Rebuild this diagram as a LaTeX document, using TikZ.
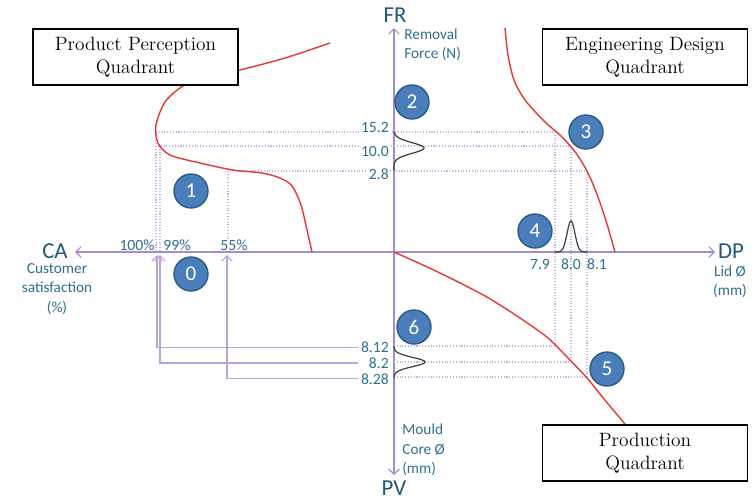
\documentclass[tikz,border=0pt]{standalone}
\usepackage{fontspec}
\setsansfont{Carlito}
\usepackage{tikz}
\usetikzlibrary{positioning,arrows.meta}
\definecolor{AxisLav}{HTML}{A48DCF}
\definecolor{GuideLav}{HTML}{C2B2E2}
\definecolor{LinkLav}{HTML}{B6A4DA}
\definecolor{LabelTeal}{HTML}{2F6F8F}
\definecolor{AxisTeal}{HTML}{1F5878}
\definecolor{BallBlue}{HTML}{4A7EBB}
\definecolor{BallEdge}{HTML}{2C5A8A}
\definecolor{CurveRed}{HTML}{E53935}

\begin{document}
\begin{tikzpicture}[
  x=0.02cm, y=-0.02cm,
  quadbox/.style={
    draw,
    line width=0.7pt,
    fill=white,
    minimum width=4.1cm,
    minimum height=1.12cm,
    align=center,
    font=\fontsize{11}{13}\selectfont
  },
  ball/.style={
    circle,
    fill=BallBlue,
    draw=BallEdge,
    line width=0.8pt,
    minimum size=0.68cm,
    inner sep=0pt,
    text=white,
    font=\sffamily\fontsize{12}{12}\selectfont
  },
  axislbl/.style={text=AxisTeal,inner sep=0.5pt,font=\sffamily\fontsize{13}{13}\selectfont},
  unitlbl/.style={text=LabelTeal,inner sep=0pt,font=\sffamily\fontsize{8.7}{11}\selectfont},
  ticklbl/.style={text=LabelTeal,inner sep=0.5pt,font=\sffamily\fontsize{8.9}{10}\selectfont},
  axis/.style={AxisLav,line width=0.7pt,-{Straight Barb[length=3pt,width=6pt]}},
  guide/.style={GuideLav,densely dotted,line width=0.6pt},
  link/.style={LinkLav,line width=0.7pt,-{Straight Barb[length=3pt,width=6pt]}},
  bell/.style={black!75,line width=0.7pt},
  resp/.style={CurveRed,line width=0.8pt}
]
\useasboundingbox (0,0) rectangle (755,501);

% axes
\coordinate (o) at (394,252);
\coordinate (frtip) at (394,28);
\coordinate (pvtip) at (394,475);
\coordinate (catip) at (75,252);
\coordinate (dptip) at (715,252);
\draw[axis] (o) -- (frtip);
\draw[axis] (o) -- (pvtip);
\draw[axis] (o) -- (catip);
\draw[axis] (o) -- (dptip);

\node[axislbl] (fr) at (395,15) {FR};
\node[axislbl] (pv) at (394,488) {PV};
\node[axislbl] (ca) at (55,251) {CA};
\node[axislbl] (dp) at (731,251) {DP};

\node[unitlbl,anchor=west,align=left] (frunit) at (404,45) {Removal\\Force (N)};
\node[unitlbl,align=center] (caunit) at (57,289) {Customer\\satisfaction\\(\%)};
\node[unitlbl,align=center] (dpunit) at (730,282) {Lid Ø\\(mm)};
\node[unitlbl,anchor=west,align=left] (pvunit) at (402,450) {Mould\\Core Ø\\(mm)};

% dotted guides
\draw[guide] (156,132) -- (555,132);
\draw[guide] (158,146) -- (571,146);
\draw[guide] (230,171) -- (587,171);
\draw[guide] (156,132) -- (156,252);
\draw[guide] (160,146) -- (160,252);
\draw[guide] (228,171) -- (228,252);
\draw[guide] (394,346) -- (555,346);
\draw[guide] (394,362) -- (571,362);
\draw[guide] (394,377) -- (587,377);
\draw[guide] (555,132) -- (555,346);
\draw[guide] (571,146) -- (571,362);
\draw[guide] (587,171) -- (587,377);

% response curves
\draw[resp] plot[smooth] coordinates {(330,43) (285,58) (240,70) (205,78) (183,86)
  (165,102) (156,125) (158,143) (170,155) (200,163) (233,170) (262,173)
  (280,178) (292,186) (301,205) (307,230) (312,252)};
\draw[resp] plot[smooth] coordinates {(505,28) (508,55) (514,80) (525,100) (544,121)
  (562,137) (576,153) (588,173) (598,197) (607,224) (615,252)};
\draw[resp] plot[smooth] coordinates {(394,252) (440,273) (485,296) (520,318)
  (548,338) (568,358) (587,378) (604,399) (625,424)};

% distributions
\draw[bell] plot[domain=-16:23,samples=60] ({394+30*exp(-((\x/7.5)^2))},{148+\x});
\draw[bell] plot[domain=-16:16,samples=60] ({571+\x},{252-31*exp(-((\x/5.5)^2))});
\draw[bell] plot[domain=-16:16,samples=60] ({394+31*exp(-((\x/6.5)^2))},{362+\x});

% tick labels
\node[ticklbl,fill=white,anchor=east] (t152) at (390,127) {15.2};
\node[ticklbl,fill=white,anchor=east] (t100) at (390,151) {10.0};
\node[ticklbl,fill=white,anchor=east] (t28) at (390,174) {2.8};
\node[ticklbl,anchor=east,text width=0.6cm,align=right] (l812) at (390,347) {8.12};
\node[ticklbl,anchor=east,text width=0.6cm,align=right] (l82) at (390,363) {8.2};
\node[ticklbl,anchor=east,text width=0.6cm,align=right] (l828) at (390,379) {8.28};
\node[ticklbl] (d79) at (540,264) {7.9};
\node[ticklbl] (d80) at (571,264) {8.0};
\node[ticklbl] (d81) at (597,264) {8.1};
\node[ticklbl,fill=white] (p100) at (137,245) {100\%};
\node[ticklbl,fill=white] (p99) at (177,245) {99\%};
\node[ticklbl,fill=white] (p55) at (234,245) {55\%};

% links back to satisfaction
\coordinate (a100) at (157,255);
\coordinate (a99) at (160,255);
\coordinate (a55) at (227,255);
\draw[link] ([yshift=-0.5pt]l812.west) -| (a100);
\draw[link] (l82.west) -| (a99);
\draw[link] ([yshift=0.5pt]l828.west) -| (a55);

% quadrants
\node[quadbox] (pp) at (135.5,57) {Product Perception\\Quadrant};
\node[quadbox] (ed) at (645,57) {Engineering Design\\Quadrant};
\node[quadbox] (pq) at (645,453) {Production\\Quadrant};

% steps
\node[ball] (n0) at (191,274) {0};
\node[ball] (n1) at (191,191) {1};
\node[ball] (n2) at (412,102) {2};
\node[ball] (n3) at (586,132) {3};
\node[ball] (n4) at (535,231) {4};
\node[ball] (n5) at (607,369) {5};
\node[ball] (n6) at (414,327) {6};

\end{tikzpicture}
\end{document}
